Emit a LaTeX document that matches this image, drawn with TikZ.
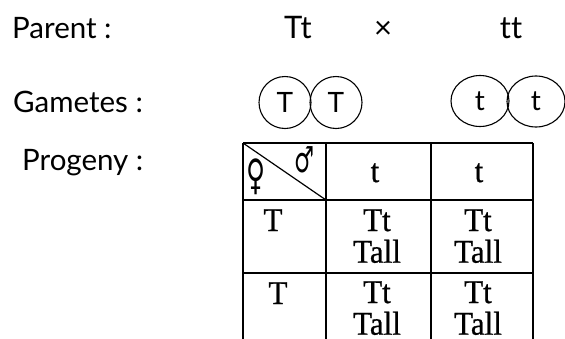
\documentclass[tikz,border=0pt]{standalone}
\usepackage{fontspec}
\usepackage{graphicx}
\setmainfont{Lato}[Ligatures=NoCommon]
\newfontfamily\serifcell{Liberation Serif}[FakeBold=0.8]
\newfontfamily\symfont{DejaVu Sans}
\usetikzlibrary{shapes.geometric}

% Testo delle celle (serif, un po' stretto)
\newcommand{\cellfont}{\serifcell\fontsize{31}{27}\selectfont}
\newcommand{\celltext}[1]{\scalebox{1}[1.07]{\begin{tabular}[t]{@{}c@{}}#1\end{tabular}}}
% Simboli di sesso, stretti
\newcommand{\sexsym}[1]{\scalebox{0.62}[1]{#1}}

\begin{document}
\begin{tikzpicture}[x=1pt, y=-1pt,
  lab/.style={font=\fontsize{29.5}{36}\selectfont, anchor=base west, inner sep=0pt},
  gen/.style={font=\fontsize{31}{36}\selectfont, anchor=base, inner sep=0pt},
  gamT/.style={circle, draw, line width=1.1pt, minimum size=52pt, inner sep=0pt, font=\fontsize{28}{32}\selectfont},
  gamt/.style={ellipse, draw, line width=1.1pt, minimum width=58pt, minimum height=51pt, inner sep=0pt, font=\fontsize{28}{32}\selectfont},
  cell/.style={font=\cellfont, anchor=base, inner sep=0pt},
  grid/.style={line width=1.7pt}]

\useasboundingbox (0,0) rectangle (565,338);

% Etichette a sinistra
\node[lab] (parent) at (12,38) {Parent :};
\node[lab] (gametes) at (13,112) {Gametes :};
\node[lab] (progeny) at (22,170) {Progeny :};

% Incrocio
\node[gen] (p1) at (298,38) {Tt};
\node[gen] (cross) at (383,38) {×};
\node[gen] (p2) at (511,38) {tt};

% Gameti
\node[gamT] (g1) at (285,102.5) {T};
\node[gamT] (g2) at (336,102.5) {T};
\node[gamt] (g3) at (480,101) {t};
\node[gamt] (g4) at (536,101.5) {t};

% Griglia della tabella
\coordinate (a) at (243,143);
\coordinate (b) at (326,200);
\foreach \x in {243,326,431,533}
  \draw[grid] (\x,143) -- (\x,345);
\foreach \y in {143,200,273}
  \draw[grid] (243,\y) -- (533,\y);
\draw[line width=1.2pt] (a) -- (b);

% Simboli
\node[font=\symfont\fontsize{42}{42}\selectfont, inner sep=0pt] (fem) at (256,177) {\sexsym{♀}};
\node[font=\symfont\fontsize{36}{36}\selectfont, inner sep=0pt] (mal) at (305,160) {\sexsym{♂}};

% Intestazioni
\node[cell] (m1) at (375,182) {\celltext{t}};
\node[cell] (m2) at (479,182) {\celltext{t}};
\node[cell] (f1) at (273,231) {\celltext{T}};
\node[cell] (f2) at (278,304) {\celltext{T}};

% Figli
\node[cell] (c11) at (377,231) {\celltext{Tt\\Tall}};
\node[cell] (c12) at (478,231) {\celltext{Tt\\Tall}};
\node[cell] (c21) at (377,303) {\celltext{Tt\\Tall}};
\node[cell] (c22) at (478,303) {\celltext{Tt\\Tall}};

\end{tikzpicture}
\end{document}
